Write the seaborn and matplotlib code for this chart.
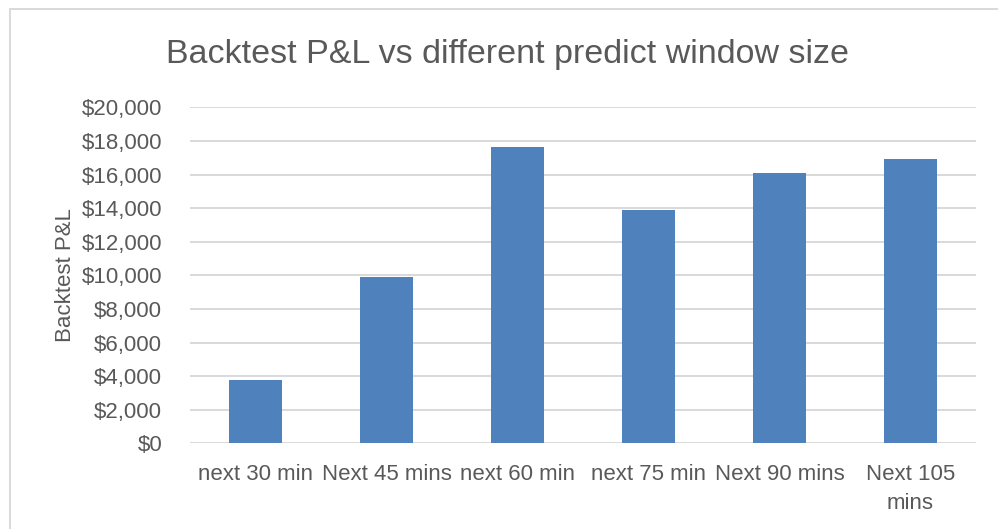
import matplotlib
matplotlib.use("Agg")
import matplotlib.pyplot as plt
import seaborn as sns
import pandas as pd
from matplotlib.patches import Rectangle
from matplotlib.ticker import FuncFormatter

# -------------------------
# Data
# -------------------------
windows = ["next 30 min", "Next 45 mins", "next 60 min",
           "next 75 min", "Next 90 mins", "Next 105\nmins"]
pnl = [3750, 9900, 17650, 13900, 16100, 16900]

TITLE = "Backtest P&L vs different predict window size"
YLABEL = "Backtest P&L"

df = pd.DataFrame({"window": windows, "pnl": pnl})

# -------------------------
# Style
# -------------------------
sns.set_style("white")
plt.rcParams["font.family"] = ["Liberation Sans", "DejaVu Sans"]

TEXT = "#595959"
GRID = "#D9D9D9"
BAR = "#4F81BD"

W, H = 998, 529
fig = plt.figure(figsize=(W / 100, H / 100), dpi=100)
ax = fig.add_axes([190 / W, 1 - 443.3 / H, (976 - 190) / W, (443.3 - 107.3) / H])

sns.barplot(data=df, x="window", y="pnl", color=BAR, width=0.4,
            saturation=1, edgecolor="none", ax=ax, zorder=3)

ax.set_ylim(0, 20000)
ax.set_yticks(range(0, 20001, 2000))
ax.yaxis.set_major_formatter(FuncFormatter(lambda v, p: f"${v:,.0f}"))
ax.grid(axis="y", color=GRID, linewidth=1.4, zorder=0)
ax.set_axisbelow(True)
for s in ax.spines.values():
    s.set_visible(False)

ax.tick_params(axis="y", length=0, pad=20, labelsize=16, labelcolor=TEXT)
ax.tick_params(axis="x", length=0, pad=15, labelsize=16, labelcolor=TEXT)
for lbl in ax.get_xticklabels():
    lbl.set_linespacing(1.5)
ax.set_xlabel("")
ax.set_ylabel(YLABEL, fontsize=16, color=TEXT)
ax.yaxis.set_label_coords(-0.159, 0.5)
ax.yaxis.label.set_va("center")

fig.text(507 / W, 1 - 63 / H, TITLE, ha="center", va="baseline",
         fontsize=24.5, color=TEXT)

# chart area border
fig.patches.append(Rectangle((9.5 / W, -0.1), 1.2, 1 - 9 / H + 0.1,
                             transform=fig.transFigure, fill=False,
                             edgecolor=GRID, linewidth=1.4))

fig.savefig("out.png", dpi=100)
plt.close(fig)
